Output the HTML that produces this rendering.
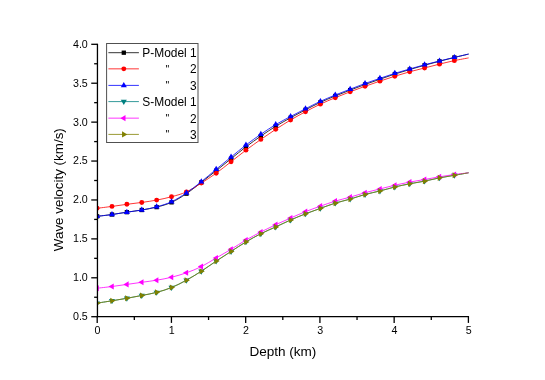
<!DOCTYPE html>
<html><head><meta charset="utf-8"><title>Chart</title>
<style>html,body{margin:0;padding:0;background:#fff;}body{width:545px;height:380px;position:relative;overflow:hidden;font-family:"Liberation Sans",sans-serif;}</style>
</head><body>
<svg width="545" height="380" viewBox="0 0 545 380" style="position:absolute;left:0;top:0;will-change:transform">
<defs><clipPath id="cp"><rect x="97.45" y="44.30" width="371.95" height="272.40"/></clipPath></defs>
<g clip-path="url(#cp)">
<path d="M97.10,216.31 C99.58,216.02 107.02,215.21 111.99,214.52 C116.95,213.83 121.91,212.93 126.87,212.18 C131.83,211.43 136.80,210.84 141.76,210.00 C146.72,209.15 151.68,208.38 156.64,207.11 C161.61,205.84 166.57,204.59 171.53,202.35 C176.49,200.12 181.45,197.02 186.42,193.69 C191.38,190.37 196.34,186.22 201.30,182.38 C206.26,178.55 211.23,174.63 216.19,170.68 C221.15,166.74 226.11,162.69 231.07,158.72 C236.04,154.75 241.00,150.64 245.96,146.88 C250.92,143.11 255.88,139.54 260.85,136.11 C265.81,132.68 270.77,129.36 275.73,126.30 C280.69,123.24 285.66,120.48 290.62,117.74 C295.58,114.99 300.54,112.38 305.50,109.82 C310.47,107.25 315.43,104.66 320.39,102.35 C325.35,100.05 330.31,98.02 335.28,95.98 C340.24,93.94 345.20,92.02 350.16,90.10 C355.12,88.19 360.09,86.31 365.05,84.49 C370.01,82.67 374.97,80.93 379.93,79.20 C384.90,77.46 389.86,75.69 394.82,74.08 C399.78,72.47 404.74,71.02 409.71,69.54 C414.67,68.07 419.63,66.63 424.59,65.25 C429.55,63.86 434.52,62.55 439.48,61.26 C444.44,59.97 449.51,58.70 454.36,57.51 C459.22,56.31 466.23,54.65 468.60,54.07" fill="none" stroke="#000000" stroke-width="0.80"/>
<rect x="94.95" y="214.16" width="4.30" height="4.30" fill="#000000"/>
<rect x="109.84" y="212.37" width="4.30" height="4.30" fill="#000000"/>
<rect x="124.72" y="210.03" width="4.30" height="4.30" fill="#000000"/>
<rect x="139.61" y="207.85" width="4.30" height="4.30" fill="#000000"/>
<rect x="154.49" y="204.96" width="4.30" height="4.30" fill="#000000"/>
<rect x="169.38" y="200.20" width="4.30" height="4.30" fill="#000000"/>
<rect x="184.27" y="191.54" width="4.30" height="4.30" fill="#000000"/>
<rect x="199.15" y="180.23" width="4.30" height="4.30" fill="#000000"/>
<rect x="214.04" y="168.53" width="4.30" height="4.30" fill="#000000"/>
<rect x="228.92" y="156.57" width="4.30" height="4.30" fill="#000000"/>
<rect x="243.81" y="144.73" width="4.30" height="4.30" fill="#000000"/>
<rect x="258.70" y="133.96" width="4.30" height="4.30" fill="#000000"/>
<rect x="273.58" y="124.15" width="4.30" height="4.30" fill="#000000"/>
<rect x="288.47" y="115.59" width="4.30" height="4.30" fill="#000000"/>
<rect x="303.35" y="107.67" width="4.30" height="4.30" fill="#000000"/>
<rect x="318.24" y="100.20" width="4.30" height="4.30" fill="#000000"/>
<rect x="333.13" y="93.83" width="4.30" height="4.30" fill="#000000"/>
<rect x="348.01" y="87.95" width="4.30" height="4.30" fill="#000000"/>
<rect x="362.90" y="82.34" width="4.30" height="4.30" fill="#000000"/>
<rect x="377.78" y="77.05" width="4.30" height="4.30" fill="#000000"/>
<rect x="392.67" y="71.93" width="4.30" height="4.30" fill="#000000"/>
<rect x="407.56" y="67.39" width="4.30" height="4.30" fill="#000000"/>
<rect x="422.44" y="63.10" width="4.30" height="4.30" fill="#000000"/>
<rect x="437.33" y="59.11" width="4.30" height="4.30" fill="#000000"/>
<rect x="452.21" y="55.36" width="4.30" height="4.30" fill="#000000"/>
<path d="M97.10,208.28 C99.58,207.97 107.02,207.07 111.99,206.41 C116.95,205.75 121.91,204.97 126.87,204.30 C131.83,203.64 136.80,203.13 141.76,202.43 C146.72,201.73 151.68,201.04 156.64,200.09 C161.61,199.14 166.57,198.10 171.53,196.74 C176.49,195.37 181.45,194.17 186.42,191.90 C191.38,189.62 196.34,186.21 201.30,183.09 C206.26,179.97 211.23,176.74 216.19,173.18 C221.15,169.62 226.11,165.55 231.07,161.71 C236.04,157.88 241.00,153.89 245.96,150.17 C250.92,146.45 255.88,142.88 260.85,139.41 C265.81,135.94 270.77,132.58 275.73,129.34 C280.69,126.11 285.66,122.92 290.62,119.98 C295.58,117.05 300.54,114.36 305.50,111.72 C310.47,109.08 315.43,106.49 320.39,104.15 C325.35,101.81 330.31,99.74 335.28,97.68 C340.24,95.61 345.20,93.65 350.16,91.75 C355.12,89.85 360.09,88.06 365.05,86.29 C370.01,84.52 374.97,82.82 379.93,81.14 C384.90,79.46 389.86,77.79 394.82,76.23 C399.78,74.67 404.74,73.16 409.71,71.78 C414.67,70.40 419.63,69.23 424.59,67.96 C429.55,66.68 434.52,65.36 439.48,64.14 C444.44,62.91 449.51,61.67 454.36,60.63 C459.22,59.59 466.23,58.35 468.60,57.90" fill="none" stroke="#ff0000" stroke-width="0.80"/>
<circle cx="97.10" cy="208.28" r="2.45" fill="#ff0000"/>
<circle cx="111.99" cy="206.41" r="2.45" fill="#ff0000"/>
<circle cx="126.87" cy="204.30" r="2.45" fill="#ff0000"/>
<circle cx="141.76" cy="202.43" r="2.45" fill="#ff0000"/>
<circle cx="156.64" cy="200.09" r="2.45" fill="#ff0000"/>
<circle cx="171.53" cy="196.74" r="2.45" fill="#ff0000"/>
<circle cx="186.42" cy="191.90" r="2.45" fill="#ff0000"/>
<circle cx="201.30" cy="183.09" r="2.45" fill="#ff0000"/>
<circle cx="216.19" cy="173.18" r="2.45" fill="#ff0000"/>
<circle cx="231.07" cy="161.71" r="2.45" fill="#ff0000"/>
<circle cx="245.96" cy="150.17" r="2.45" fill="#ff0000"/>
<circle cx="260.85" cy="139.41" r="2.45" fill="#ff0000"/>
<circle cx="275.73" cy="129.34" r="2.45" fill="#ff0000"/>
<circle cx="290.62" cy="119.98" r="2.45" fill="#ff0000"/>
<circle cx="305.50" cy="111.72" r="2.45" fill="#ff0000"/>
<circle cx="320.39" cy="104.15" r="2.45" fill="#ff0000"/>
<circle cx="335.28" cy="97.68" r="2.45" fill="#ff0000"/>
<circle cx="350.16" cy="91.75" r="2.45" fill="#ff0000"/>
<circle cx="365.05" cy="86.29" r="2.45" fill="#ff0000"/>
<circle cx="379.93" cy="81.14" r="2.45" fill="#ff0000"/>
<circle cx="394.82" cy="76.23" r="2.45" fill="#ff0000"/>
<circle cx="409.71" cy="71.78" r="2.45" fill="#ff0000"/>
<circle cx="424.59" cy="67.96" r="2.45" fill="#ff0000"/>
<circle cx="439.48" cy="64.14" r="2.45" fill="#ff0000"/>
<circle cx="454.36" cy="60.63" r="2.45" fill="#ff0000"/>
<path d="M97.10,216.31 C99.58,216.02 107.02,215.21 111.99,214.52 C116.95,213.83 121.91,212.93 126.87,212.18 C131.83,211.43 136.80,210.89 141.76,210.00 C146.72,209.10 151.68,208.18 156.64,206.80 C161.61,205.42 166.57,204.04 171.53,201.73 C176.49,199.41 181.45,196.25 186.42,192.91 C191.38,189.57 196.34,185.62 201.30,181.68 C206.26,177.74 211.23,173.39 216.19,169.28 C221.15,165.17 226.11,161.08 231.07,157.03 C236.04,152.99 241.00,148.82 245.96,145.02 C250.92,141.23 255.88,137.66 260.85,134.26 C265.81,130.85 270.77,127.55 275.73,124.59 C280.69,121.62 285.66,119.11 290.62,116.47 C295.58,113.84 300.54,111.27 305.50,108.75 C310.47,106.23 315.43,103.63 320.39,101.34 C325.35,99.05 330.31,97.05 335.28,95.02 C340.24,93.00 345.20,91.10 350.16,89.17 C355.12,87.25 360.09,85.29 365.05,83.48 C370.01,81.67 374.97,80.02 379.93,78.33 C384.90,76.64 389.86,74.90 394.82,73.34 C399.78,71.78 404.74,70.40 409.71,68.97 C414.67,67.54 419.63,66.10 424.59,64.76 C429.55,63.42 434.52,62.17 439.48,60.94 C444.44,59.70 449.51,58.49 454.36,57.35 C459.22,56.21 466.23,54.62 468.60,54.07" fill="none" stroke="#0000ff" stroke-width="0.80"/>
<polygon points="97.10,212.85 94.05,218.05 100.15,218.05" fill="#0000ff"/>
<polygon points="111.99,211.05 108.94,216.25 115.04,216.25" fill="#0000ff"/>
<polygon points="126.87,208.71 123.82,213.91 129.92,213.91" fill="#0000ff"/>
<polygon points="141.76,206.53 138.71,211.73 144.81,211.73" fill="#0000ff"/>
<polygon points="156.64,203.33 153.59,208.53 159.69,208.53" fill="#0000ff"/>
<polygon points="171.53,198.26 168.48,203.46 174.58,203.46" fill="#0000ff"/>
<polygon points="186.42,189.45 183.37,194.65 189.47,194.65" fill="#0000ff"/>
<polygon points="201.30,178.22 198.25,183.42 204.35,183.42" fill="#0000ff"/>
<polygon points="216.19,165.81 213.14,171.01 219.24,171.01" fill="#0000ff"/>
<polygon points="231.07,153.57 228.02,158.77 234.12,158.77" fill="#0000ff"/>
<polygon points="245.96,141.56 242.91,146.76 249.01,146.76" fill="#0000ff"/>
<polygon points="260.85,130.79 257.80,135.99 263.90,135.99" fill="#0000ff"/>
<polygon points="275.73,121.12 272.68,126.32 278.78,126.32" fill="#0000ff"/>
<polygon points="290.62,113.01 287.57,118.21 293.67,118.21" fill="#0000ff"/>
<polygon points="305.50,105.29 302.45,110.49 308.55,110.49" fill="#0000ff"/>
<polygon points="320.39,97.88 317.34,103.08 323.44,103.08" fill="#0000ff"/>
<polygon points="335.28,91.56 332.23,96.76 338.33,96.76" fill="#0000ff"/>
<polygon points="350.16,85.71 347.11,90.91 353.21,90.91" fill="#0000ff"/>
<polygon points="365.05,80.01 362.00,85.21 368.10,85.21" fill="#0000ff"/>
<polygon points="379.93,74.87 376.88,80.07 382.98,80.07" fill="#0000ff"/>
<polygon points="394.82,69.87 391.77,75.07 397.87,75.07" fill="#0000ff"/>
<polygon points="409.71,65.51 406.66,70.71 412.76,70.71" fill="#0000ff"/>
<polygon points="424.59,61.29 421.54,66.49 427.64,66.49" fill="#0000ff"/>
<polygon points="439.48,57.47 436.43,62.67 442.53,62.67" fill="#0000ff"/>
<polygon points="454.36,53.88 451.31,59.08 457.41,59.08" fill="#0000ff"/>
<path d="M97.10,303.13 C99.58,302.74 107.02,301.59 111.99,300.79 C116.95,299.98 121.91,299.18 126.87,298.29 C131.83,297.41 136.80,296.47 141.76,295.48 C146.72,294.50 151.68,293.69 156.64,292.36 C161.61,291.04 166.57,289.56 171.53,287.53 C176.49,285.50 181.45,282.91 186.42,280.20 C191.38,277.48 196.34,274.41 201.30,271.23 C206.26,268.04 211.23,264.39 216.19,261.09 C221.15,257.78 226.11,254.61 231.07,251.41 C236.04,248.22 241.00,244.85 245.96,241.90 C250.92,238.95 255.88,236.20 260.85,233.71 C265.81,231.21 270.77,229.21 275.73,226.92 C280.69,224.63 285.66,222.16 290.62,219.98 C295.58,217.80 300.54,215.75 305.50,213.82 C310.47,211.88 315.43,210.14 320.39,208.36 C325.35,206.58 330.31,204.68 335.28,203.13 C340.24,201.59 345.20,200.52 350.16,199.08 C355.12,197.63 360.09,195.83 365.05,194.47 C370.01,193.12 374.97,192.21 379.93,190.96 C384.90,189.72 389.86,188.18 394.82,186.99 C399.78,185.79 404.74,184.76 409.71,183.79 C414.67,182.81 419.63,182.12 424.59,181.14 C429.55,180.15 434.52,178.84 439.48,177.86 C444.44,176.89 449.51,176.13 454.36,175.29 C459.22,174.44 466.23,173.21 468.60,172.79" fill="none" stroke="#008080" stroke-width="0.80"/>
<polygon points="97.10,306.59 94.05,301.39 100.15,301.39" fill="#008080"/>
<polygon points="111.99,304.25 108.94,299.05 115.04,299.05" fill="#008080"/>
<polygon points="126.87,301.76 123.82,296.56 129.92,296.56" fill="#008080"/>
<polygon points="141.76,298.95 138.71,293.75 144.81,293.75" fill="#008080"/>
<polygon points="156.64,295.83 153.59,290.63 159.69,290.63" fill="#008080"/>
<polygon points="171.53,290.99 168.48,285.79 174.58,285.79" fill="#008080"/>
<polygon points="186.42,283.66 183.37,278.46 189.47,278.46" fill="#008080"/>
<polygon points="201.30,274.69 198.25,269.49 204.35,269.49" fill="#008080"/>
<polygon points="216.19,264.55 213.14,259.35 219.24,259.35" fill="#008080"/>
<polygon points="231.07,254.88 228.02,249.68 234.12,249.68" fill="#008080"/>
<polygon points="245.96,245.36 242.91,240.16 249.01,240.16" fill="#008080"/>
<polygon points="260.85,237.17 257.80,231.97 263.90,231.97" fill="#008080"/>
<polygon points="275.73,230.39 272.68,225.19 278.78,225.19" fill="#008080"/>
<polygon points="290.62,223.45 287.57,218.25 293.67,218.25" fill="#008080"/>
<polygon points="305.50,217.28 302.45,212.08 308.55,212.08" fill="#008080"/>
<polygon points="320.39,211.82 317.34,206.62 323.44,206.62" fill="#008080"/>
<polygon points="335.28,206.60 332.23,201.40 338.33,201.40" fill="#008080"/>
<polygon points="350.16,202.54 347.11,197.34 353.21,197.34" fill="#008080"/>
<polygon points="365.05,197.94 362.00,192.74 368.10,192.74" fill="#008080"/>
<polygon points="379.93,194.43 376.88,189.23 382.98,189.23" fill="#008080"/>
<polygon points="394.82,190.45 391.77,185.25 397.87,185.25" fill="#008080"/>
<polygon points="409.71,187.25 406.66,182.05 412.76,182.05" fill="#008080"/>
<polygon points="424.59,184.60 421.54,179.40 427.64,179.40" fill="#008080"/>
<polygon points="439.48,181.33 436.43,176.13 442.53,176.13" fill="#008080"/>
<polygon points="454.36,178.75 451.31,173.55 457.41,173.55" fill="#008080"/>
<path d="M97.10,288.23 C99.58,287.94 107.02,287.15 111.99,286.51 C116.95,285.88 121.91,285.11 126.87,284.41 C131.83,283.71 136.80,283.00 141.76,282.30 C146.72,281.60 151.68,281.04 156.64,280.20 C161.61,279.35 166.57,278.47 171.53,277.23 C176.49,276.00 181.45,274.55 186.42,272.79 C191.38,271.02 196.34,269.09 201.30,266.62 C206.26,264.15 211.23,260.85 216.19,257.97 C221.15,255.08 226.11,252.30 231.07,249.31 C236.04,246.32 241.00,242.91 245.96,240.03 C250.92,237.14 255.88,234.55 260.85,231.99 C265.81,229.43 270.77,226.99 275.73,224.66 C280.69,222.33 285.66,220.20 290.62,218.03 C295.58,215.86 300.54,213.61 305.50,211.63 C310.47,209.66 315.43,207.93 320.39,206.17 C325.35,204.42 330.31,202.61 335.28,201.10 C340.24,199.60 345.20,198.53 350.16,197.13 C355.12,195.72 360.09,194.05 365.05,192.68 C370.01,191.31 374.97,190.18 379.93,188.94 C384.90,187.69 389.86,186.34 394.82,185.19 C399.78,184.05 404.74,183.02 409.71,182.07 C414.67,181.12 419.63,180.38 424.59,179.50 C429.55,178.61 434.52,177.60 439.48,176.77 C444.44,175.94 449.51,175.17 454.36,174.51 C459.22,173.84 466.23,173.08 468.60,172.79" fill="none" stroke="#ff00ff" stroke-width="0.80"/>
<polygon points="93.63,288.23 98.83,285.18 98.83,291.28" fill="#ff00ff"/>
<polygon points="108.52,286.51 113.72,283.46 113.72,289.56" fill="#ff00ff"/>
<polygon points="123.41,284.41 128.61,281.36 128.61,287.46" fill="#ff00ff"/>
<polygon points="138.29,282.30 143.49,279.25 143.49,285.35" fill="#ff00ff"/>
<polygon points="153.18,280.20 158.38,277.15 158.38,283.25" fill="#ff00ff"/>
<polygon points="168.06,277.23 173.26,274.18 173.26,280.28" fill="#ff00ff"/>
<polygon points="182.95,272.79 188.15,269.74 188.15,275.84" fill="#ff00ff"/>
<polygon points="197.84,266.62 203.04,263.57 203.04,269.67" fill="#ff00ff"/>
<polygon points="212.72,257.97 217.92,254.92 217.92,261.02" fill="#ff00ff"/>
<polygon points="227.61,249.31 232.81,246.26 232.81,252.36" fill="#ff00ff"/>
<polygon points="242.49,240.03 247.69,236.98 247.69,243.08" fill="#ff00ff"/>
<polygon points="257.38,231.99 262.58,228.94 262.58,235.04" fill="#ff00ff"/>
<polygon points="272.27,224.66 277.47,221.61 277.47,227.71" fill="#ff00ff"/>
<polygon points="287.15,218.03 292.35,214.98 292.35,221.08" fill="#ff00ff"/>
<polygon points="302.04,211.63 307.24,208.58 307.24,214.68" fill="#ff00ff"/>
<polygon points="316.92,206.17 322.12,203.12 322.12,209.22" fill="#ff00ff"/>
<polygon points="331.81,201.10 337.01,198.05 337.01,204.15" fill="#ff00ff"/>
<polygon points="346.70,197.13 351.90,194.08 351.90,200.18" fill="#ff00ff"/>
<polygon points="361.58,192.68 366.78,189.63 366.78,195.73" fill="#ff00ff"/>
<polygon points="376.47,188.94 381.67,185.89 381.67,191.99" fill="#ff00ff"/>
<polygon points="391.35,185.19 396.55,182.14 396.55,188.24" fill="#ff00ff"/>
<polygon points="406.24,182.07 411.44,179.02 411.44,185.12" fill="#ff00ff"/>
<polygon points="421.13,179.50 426.33,176.45 426.33,182.55" fill="#ff00ff"/>
<polygon points="436.01,176.77 441.21,173.72 441.21,179.82" fill="#ff00ff"/>
<polygon points="450.90,174.51 456.10,171.46 456.10,177.56" fill="#ff00ff"/>
<path d="M97.10,303.13 C99.58,302.74 107.02,301.59 111.99,300.79 C116.95,299.98 121.91,299.18 126.87,298.29 C131.83,297.41 136.80,296.47 141.76,295.48 C146.72,294.50 151.68,293.69 156.64,292.36 C161.61,291.04 166.57,289.56 171.53,287.53 C176.49,285.50 181.45,282.91 186.42,280.20 C191.38,277.48 196.34,274.41 201.30,271.23 C206.26,268.04 211.23,264.39 216.19,261.09 C221.15,257.78 226.11,254.61 231.07,251.41 C236.04,248.22 241.00,244.85 245.96,241.90 C250.92,238.95 255.88,236.20 260.85,233.71 C265.81,231.21 270.77,229.21 275.73,226.92 C280.69,224.63 285.66,222.16 290.62,219.98 C295.58,217.80 300.54,215.75 305.50,213.82 C310.47,211.88 315.43,210.14 320.39,208.36 C325.35,206.58 330.31,204.68 335.28,203.13 C340.24,201.59 345.20,200.52 350.16,199.08 C355.12,197.63 360.09,195.83 365.05,194.47 C370.01,193.12 374.97,192.21 379.93,190.96 C384.90,189.72 389.86,188.18 394.82,186.99 C399.78,185.79 404.74,184.76 409.71,183.79 C414.67,182.81 419.63,182.12 424.59,181.14 C429.55,180.15 434.52,178.84 439.48,177.86 C444.44,176.89 449.51,176.13 454.36,175.29 C459.22,174.44 466.23,173.21 468.60,172.79" fill="none" stroke="#808000" stroke-width="0.80"/>
<polygon points="100.57,303.13 95.37,300.08 95.37,306.18" fill="#808000"/>
<polygon points="115.45,300.79 110.25,297.74 110.25,303.84" fill="#808000"/>
<polygon points="130.34,298.29 125.14,295.24 125.14,301.34" fill="#808000"/>
<polygon points="145.22,295.48 140.02,292.43 140.02,298.53" fill="#808000"/>
<polygon points="160.11,292.36 154.91,289.31 154.91,295.41" fill="#808000"/>
<polygon points="175.00,287.53 169.80,284.48 169.80,290.58" fill="#808000"/>
<polygon points="189.88,280.20 184.68,277.15 184.68,283.25" fill="#808000"/>
<polygon points="204.77,271.23 199.57,268.18 199.57,274.28" fill="#808000"/>
<polygon points="219.65,261.09 214.45,258.04 214.45,264.14" fill="#808000"/>
<polygon points="234.54,251.41 229.34,248.36 229.34,254.46" fill="#808000"/>
<polygon points="249.43,241.90 244.23,238.85 244.23,244.95" fill="#808000"/>
<polygon points="264.31,233.71 259.11,230.66 259.11,236.76" fill="#808000"/>
<polygon points="279.20,226.92 274.00,223.87 274.00,229.97" fill="#808000"/>
<polygon points="294.08,219.98 288.88,216.93 288.88,223.03" fill="#808000"/>
<polygon points="308.97,213.82 303.77,210.77 303.77,216.87" fill="#808000"/>
<polygon points="323.86,208.36 318.66,205.31 318.66,211.41" fill="#808000"/>
<polygon points="338.74,203.13 333.54,200.08 333.54,206.18" fill="#808000"/>
<polygon points="353.63,199.08 348.43,196.03 348.43,202.13" fill="#808000"/>
<polygon points="368.51,194.47 363.31,191.42 363.31,197.52" fill="#808000"/>
<polygon points="383.40,190.96 378.20,187.91 378.20,194.01" fill="#808000"/>
<polygon points="398.29,186.99 393.09,183.94 393.09,190.04" fill="#808000"/>
<polygon points="413.17,183.79 407.97,180.74 407.97,186.84" fill="#808000"/>
<polygon points="428.06,181.14 422.86,178.09 422.86,184.19" fill="#808000"/>
<polygon points="442.94,177.86 437.74,174.81 437.74,180.91" fill="#808000"/>
<polygon points="457.83,175.29 452.63,172.24 452.63,178.34" fill="#808000"/>
</g>
<g stroke="#000" stroke-width="1.30" fill="none">
<line x1="97.45" y1="43.65" x2="97.45" y2="317.35"/>
<line x1="96.80" y1="316.70" x2="469.05" y2="316.70"/>
<line x1="97.20" y1="316.70" x2="97.20" y2="322.90"/>
<line x1="134.32" y1="316.70" x2="134.32" y2="320.00"/>
<line x1="171.44" y1="316.70" x2="171.44" y2="322.90"/>
<line x1="208.56" y1="316.70" x2="208.56" y2="320.00"/>
<line x1="245.68" y1="316.70" x2="245.68" y2="322.90"/>
<line x1="282.80" y1="316.70" x2="282.80" y2="320.00"/>
<line x1="319.92" y1="316.70" x2="319.92" y2="322.90"/>
<line x1="357.04" y1="316.70" x2="357.04" y2="320.00"/>
<line x1="394.16" y1="316.70" x2="394.16" y2="322.90"/>
<line x1="431.28" y1="316.70" x2="431.28" y2="320.00"/>
<line x1="468.40" y1="316.70" x2="468.40" y2="322.90"/>
<line x1="97.45" y1="316.70" x2="91.25" y2="316.70"/>
<line x1="97.45" y1="297.25" x2="94.15" y2="297.25"/>
<line x1="97.45" y1="277.79" x2="91.25" y2="277.79"/>
<line x1="97.45" y1="258.33" x2="94.15" y2="258.33"/>
<line x1="97.45" y1="238.88" x2="91.25" y2="238.88"/>
<line x1="97.45" y1="219.42" x2="94.15" y2="219.42"/>
<line x1="97.45" y1="199.96" x2="91.25" y2="199.96"/>
<line x1="97.45" y1="180.50" x2="94.15" y2="180.50"/>
<line x1="97.45" y1="161.05" x2="91.25" y2="161.05"/>
<line x1="97.45" y1="141.59" x2="94.15" y2="141.59"/>
<line x1="97.45" y1="122.13" x2="91.25" y2="122.13"/>
<line x1="97.45" y1="102.67" x2="94.15" y2="102.67"/>
<line x1="97.45" y1="83.22" x2="91.25" y2="83.22"/>
<line x1="97.45" y1="63.76" x2="94.15" y2="63.76"/>
<line x1="97.45" y1="44.30" x2="91.25" y2="44.30"/>
</g>
<g font-family="Liberation Sans, sans-serif" font-size="11.5px" fill="#000">
<text transform="translate(97.40,334.3) scale(0.93,1)" text-anchor="middle">0</text>
<text transform="translate(171.64,334.3) scale(0.93,1)" text-anchor="middle">1</text>
<text transform="translate(245.88,334.3) scale(0.93,1)" text-anchor="middle">2</text>
<text transform="translate(320.12,334.3) scale(0.93,1)" text-anchor="middle">3</text>
<text transform="translate(394.36,334.3) scale(0.93,1)" text-anchor="middle">4</text>
<text transform="translate(468.60,334.3) scale(0.93,1)" text-anchor="middle">5</text>
<text transform="translate(87.8,320.10) scale(0.93,1)" text-anchor="end">0.5</text>
<text transform="translate(87.8,281.19) scale(0.93,1)" text-anchor="end">1.0</text>
<text transform="translate(87.8,242.28) scale(0.93,1)" text-anchor="end">1.5</text>
<text transform="translate(87.8,203.36) scale(0.93,1)" text-anchor="end">2.0</text>
<text transform="translate(87.8,164.45) scale(0.93,1)" text-anchor="end">2.5</text>
<text transform="translate(87.8,125.53) scale(0.93,1)" text-anchor="end">3.0</text>
<text transform="translate(87.8,86.62) scale(0.93,1)" text-anchor="end">3.5</text>
<text transform="translate(87.8,47.70) scale(0.93,1)" text-anchor="end">4.0</text>
</g>
<g font-family="Liberation Sans, sans-serif" font-size="13px" fill="#000">
<text x="282.9" y="355.6" text-anchor="middle" font-size="13.55px">Depth (km)</text>
<text transform="translate(62.9,189.7) rotate(-90)" font-size="13.4px" text-anchor="middle">Wave velocity (km/s)</text>
</g>
<rect x="106.6" y="43.5" width="91.4" height="99.0" fill="#fff" stroke="#505050" stroke-width="1"/>
<g font-family="Liberation Sans, sans-serif" font-size="12.8px" fill="#000">
<line x1="108.4" y1="52.70" x2="138.9" y2="52.70" stroke="#000000" stroke-width="0.80"/>
<rect x="121.65" y="50.55" width="4.30" height="4.30" fill="#000000"/>
<text x="142.3" y="57.15" textLength="54.4" lengthAdjust="spacingAndGlyphs">P-Model 1</text>
<line x1="108.4" y1="68.85" x2="138.9" y2="68.85" stroke="#ff0000" stroke-width="0.80"/>
<circle cx="123.80" cy="68.85" r="2.45" fill="#ff0000"/>
<text transform="translate(196.5,73.30) scale(0.93,1)" text-anchor="end">2</text>
<text x="167.3" y="72.70" text-anchor="middle" font-size="10.5px">&quot;</text>
<line x1="108.4" y1="85.40" x2="138.9" y2="85.40" stroke="#0000ff" stroke-width="0.80"/>
<polygon points="123.80,81.93 120.75,87.13 126.85,87.13" fill="#0000ff"/>
<text transform="translate(196.5,89.85) scale(0.93,1)" text-anchor="end">3</text>
<text x="167.3" y="89.25" text-anchor="middle" font-size="10.5px">&quot;</text>
<line x1="108.4" y1="101.60" x2="138.9" y2="101.60" stroke="#008080" stroke-width="0.80"/>
<polygon points="123.80,105.07 120.75,99.87 126.85,99.87" fill="#008080"/>
<text x="142.3" y="106.05" textLength="54.4" lengthAdjust="spacingAndGlyphs">S-Model 1</text>
<line x1="108.4" y1="118.15" x2="138.9" y2="118.15" stroke="#ff00ff" stroke-width="0.80"/>
<polygon points="120.33,118.15 125.53,115.10 125.53,121.20" fill="#ff00ff"/>
<text transform="translate(196.5,122.60) scale(0.93,1)" text-anchor="end">2</text>
<text x="167.3" y="122.00" text-anchor="middle" font-size="10.5px">&quot;</text>
<line x1="108.4" y1="134.40" x2="138.9" y2="134.40" stroke="#808000" stroke-width="0.80"/>
<polygon points="127.27,134.40 122.07,131.35 122.07,137.45" fill="#808000"/>
<text transform="translate(196.5,138.85) scale(0.93,1)" text-anchor="end">3</text>
<text x="167.3" y="138.25" text-anchor="middle" font-size="10.5px">&quot;</text>
</g>
</svg>
</body></html>
